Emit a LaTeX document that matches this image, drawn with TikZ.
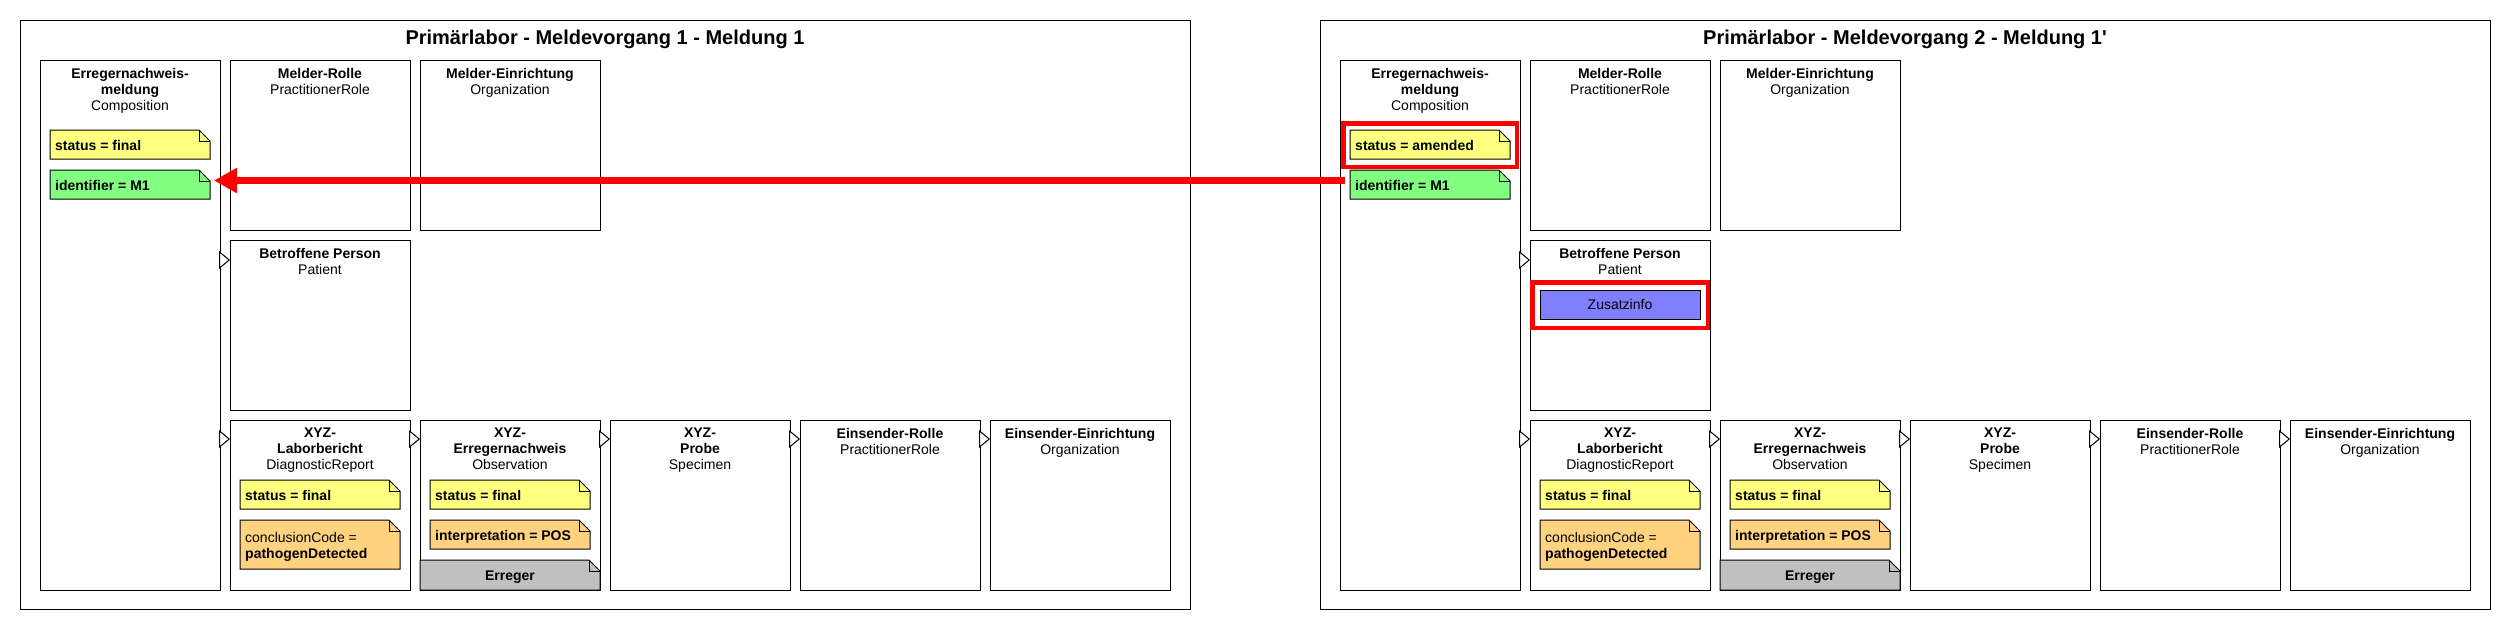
\documentclass[tikz,border=0pt]{standalone}
\usepackage{fontspec}
\setmainfont{Liberation Sans}
\usetikzlibrary{arrows.meta,calc}
\definecolor{noteyellow}{HTML}{FFFF80}
\definecolor{notegreen}{HTML}{80FF80}
\definecolor{noteorange}{HTML}{FFD280}
\definecolor{notegray}{HTML}{C0C0C0}
\definecolor{noteblue}{HTML}{8080FF}
\definecolor{hlred}{HTML}{FF0000}
\tikzset{
  resbox/.style={draw=black, line width=1pt, fill=white, anchor=north west, inner sep=0pt, outer sep=0pt, minimum width=180pt, minimum height=170pt},
  boxlabel/.style={anchor=north, align=center, inner sep=0pt, font=\fontsize{14}{16}\selectfont},
  notearea/.style={anchor=north west, inner sep=0pt, outer sep=0pt},
  notetext/.style={anchor=base west, inner sep=0pt, font=\fontsize{14}{16}\selectfont\bfseries},
  plaintext/.style={anchor=base, inner sep=0pt, font=\fontsize{14}{16}\selectfont},
  paneltitle/.style={anchor=base, inner sep=0pt, font=\fontsize{20}{24}\selectfont\bfseries},
  panelframe/.style={draw=black, line width=1pt, anchor=north west, inner sep=0pt, outer sep=0pt, minimum width=1170pt, minimum height=589pt},
  refarrow/.style={draw=black, line width=1pt, -{Triangle[length=11pt, width=18pt, fill=white]}},
  hlbox/.style={draw=hlred, line width=4.5pt, anchor=north west, inner sep=0pt, outer sep=0pt},
  bigarrow/.style={draw=hlred, line width=7.5pt, -{Triangle[length=23pt, width=24pt]}},
}
% dog-eared note: name, x, y, width, height, fill
\newcommand\dognote[6]{%
  \node[notearea, minimum width=#4pt, minimum height=#5pt] (#1) at (#2,#3) {};
  \draw[fill=#6, line width=1pt] (#1.north west) -- ([xshift=-11pt]#1.north east) -- ([yshift=-11pt]#1.north east) -- (#1.south east) -- (#1.south west) -- cycle;
  \draw[line width=1pt] ([xshift=-11pt]#1.north east) |- ([yshift=-11pt]#1.north east);
}
% panel: prefix, x offset, title, composition status
\newcommand\mkpanel[4]{%
\begin{scope}[xshift=#2pt]
  \node[panelframe] (#1frame) at (20,20) {};
  \node[paneltitle] (#1title) at (605,44) {#3};
  \node[resbox, minimum height=530pt] (#1comp) at (40,60) {};
  \node[resbox] (#1mrole) at (230,60) {};
  \node[resbox] (#1morg) at (420,60) {};
  \node[resbox] (#1pat) at (230,240) {};
  \node[resbox] (#1rep) at (230,420) {};
  \node[resbox] (#1obs) at (420,420) {};
  \node[resbox] (#1spec) at (610,420) {};
  \node[resbox] (#1erole) at (800,420) {};
  \node[resbox] (#1eorg) at (990,420) {};
  \node[boxlabel] (#1comp-l) at ([yshift=-8pt]#1comp.north) {\textbf{Erregernachweis-}\\\textbf{meldung}\\Composition};
  \node[boxlabel] (#1mrole-l) at ([yshift=-8pt]#1mrole.north) {\textbf{Melder-Rolle}\\PractitionerRole};
  \node[boxlabel] (#1morg-l) at ([yshift=-8pt]#1morg.north) {\textbf{Melder-Einrichtung}\\Organization};
  \node[boxlabel] (#1pat-l) at ([yshift=-8pt]#1pat.north) {\textbf{Betroffene Person}\\Patient};
  \node[boxlabel] (#1rep-l) at ([yshift=-8pt]#1rep.north) {\textbf{XYZ-}\\\textbf{Laborbericht}\\DiagnosticReport};
  \node[boxlabel] (#1obs-l) at ([yshift=-8pt]#1obs.north) {\textbf{XYZ-}\\\textbf{Erregernachweis}\\Observation};
  \node[boxlabel] (#1spec-l) at ([yshift=-8pt]#1spec.north) {\textbf{XYZ-}\\\textbf{Probe}\\Specimen};
  \node[boxlabel] (#1erole-l) at ([yshift=-8pt]#1erole.north) {\textbf{Einsender-Rolle}\\PractitionerRole};
  \node[boxlabel] (#1eorg-l) at ([yshift=-8pt]#1eorg.north) {\textbf{Einsender-Einrichtung}\\Organization};
  \dognote{#1cst}{50}{130}{160}{29}{noteyellow}
  \node[notetext] (#1cst-t) at ([xshift=5pt,yshift=-20pt]#1cst.north west) {#4};
  \dognote{#1id}{50}{170}{160}{29}{notegreen}
  \node[notetext] (#1id-t) at ([xshift=5pt,yshift=-20pt]#1id.north west) {identifier = M1};
  \dognote{#1rst}{240}{480}{160}{29}{noteyellow}
  \node[notetext] (#1rst-t) at ([xshift=5pt,yshift=-20pt]#1rst.north west) {status = final};
  \dognote{#1rcc}{240}{520}{160}{49}{noteorange}
  \node[notetext, anchor=north west, align=left, font=\fontsize{14}{16}\selectfont] (#1rcc-t) at ([xshift=5pt,yshift=-12pt]#1rcc.north west) {conclusionCode =\\\textbf{pathogenDetected}};
  \dognote{#1ost}{430}{480}{160}{29}{noteyellow}
  \node[notetext] (#1ost-t) at ([xshift=5pt,yshift=-20pt]#1ost.north west) {status = final};
  \dognote{#1oip}{430}{520}{160}{29}{noteorange}
  \node[notetext] (#1oip-t) at ([xshift=5pt,yshift=-20pt]#1oip.north west) {interpretation = POS};
  \dognote{#1err}{420}{560}{180}{30}{notegray}
  \node[plaintext, font=\fontsize{14}{16}\selectfont\bfseries] (#1err-t) at ([yshift=-20pt]#1err.north) {Erreger};
  \coordinate (#1pat-in) at ([yshift=-20pt]#1pat.north west);
  \coordinate (#1rep-in) at ([yshift=-19pt]#1rep.north west);
  \coordinate (#1obs-in) at ([yshift=-19pt]#1obs.north west);
  \coordinate (#1spec-in) at ([yshift=-19pt]#1spec.north west);
  \coordinate (#1erole-in) at ([yshift=-19pt]#1erole.north west);
  \coordinate (#1eorg-in) at ([yshift=-19pt]#1eorg.north west);
  \draw[refarrow] (#1comp.east |- #1pat-in) -- (#1pat-in);
  \draw[refarrow] (#1comp.east |- #1rep-in) -- (#1rep-in);
  \draw[refarrow] (#1rep.east |- #1obs-in) -- (#1obs-in);
  \draw[refarrow] (#1obs.east |- #1spec-in) -- (#1spec-in);
  \draw[refarrow] (#1spec.east |- #1erole-in) -- (#1erole-in);
  \draw[refarrow] (#1erole.east |- #1eorg-in) -- (#1eorg-in);
\end{scope}}
\begin{document}
\begin{tikzpicture}[x=1pt, y=-1pt]
  \useasboundingbox[fill=white] (0,0) rectangle (2510,630);
  \mkpanel{L}{0}{Primärlabor - Meldevorgang 1 - Meldung 1}{status = final}
  \mkpanel{R}{1300}{Primärlabor - Meldevorgang 2 - Meldung 1\textquotesingle}{status = amended}
  % additional info in the second report
  \node[notearea, draw=black, line width=1pt, fill=noteblue, minimum width=160pt, minimum height=29pt] (Rzus) at (1540,290) {};
  \node[plaintext] (Rzus-t) at ([yshift=-19pt]Rzus.north) {Zusatzinfo};
  % highlights
  \node[hlbox, minimum width=173.5pt, minimum height=43.5pt] (Rhl1) at (1343.25,123.25) {};
  \node[hlbox, minimum width=175.5pt, minimum height=45.5pt] (Rhl2) at (1532.25,282.25) {};
  % reference arrow
  \draw[bigarrow] ([xshift=-5pt,yshift=4pt]Rid.west) -- ([xshift=4pt,yshift=4pt]Lid.east);
\end{tikzpicture}
\end{document}
